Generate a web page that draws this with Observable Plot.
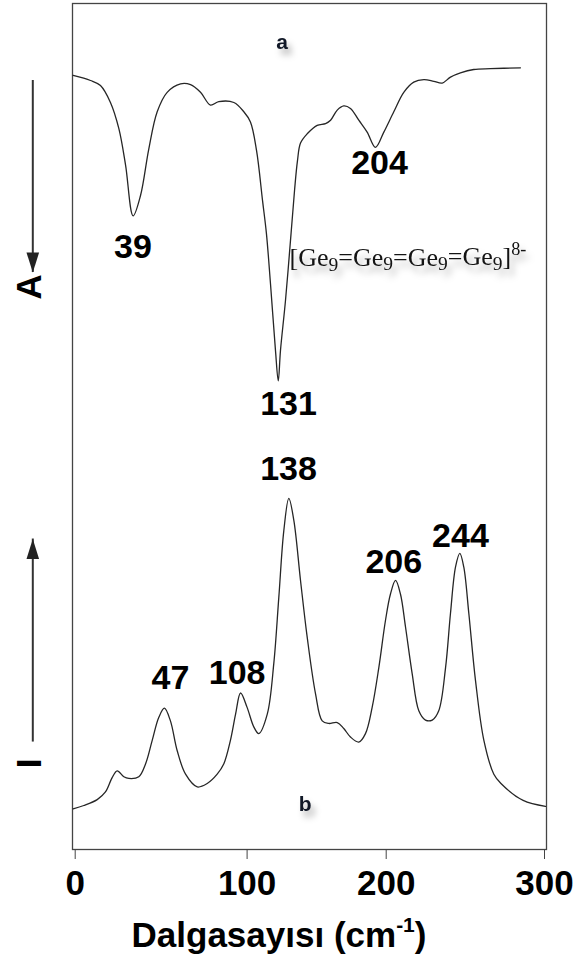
<!DOCTYPE html>
<html><head><meta charset="utf-8">
<script src="https://cdn.jsdelivr.net/npm/d3@7"></script>
<script src="https://cdn.jsdelivr.net/npm/@observablehq/plot@0.6"></script>
<style>
body{margin:0;background:#fff}
svg{display:block}
</style>
</head><body><div id="chart"></div>
<script>
// ---- data ----
const xTicks = [0, 100, 200, 300];
// spectrum a (absorbance plotted downward), wavenumber / arbitrary units
const irX = [-1.2, 8.9, 14.7, 20.5, 25.4, 29.3, 33.7, 38.0, 42.8, 47.7, 53.5, 61.3, 67.1, 72.9, 78.7, 83.5, 92.3, 98.1, 102.4, 106.8, 111.1, 113.9, 116.8, 120.4, 122.4, 124.0, 127.6, 131.2, 134.1, 136.2, 138.4, 143.2, 150.4, 156.4, 160.0, 164.8, 169.5, 174.3, 180.3, 186.3, 192.3, 198.3, 204.8, 211.1, 217.4, 223.8, 230.1, 235.4, 240.6, 246.9, 255.3, 265.9, 284.8];
const irY = [91.5, 90.9, 90.3, 88.3, 85.2, 80.9, 74.9, 77.3, 82.8, 87.2, 89.5, 90.5, 90.4, 89.5, 88.0, 88.4, 88.3, 87.2, 86.0, 82.6, 76.7, 72.8, 66.9, 59.0, 55.4, 59.0, 64.9, 72.0, 77.9, 81.4, 83.5, 84.6, 85.6, 85.8, 86.2, 87.4, 87.9, 87.6, 86.2, 84.8, 83.0, 84.8, 87.2, 89.5, 90.7, 91.0, 90.8, 90.6, 91.3, 91.8, 92.2, 92.3, 92.4];
// spectrum b (Raman intensity)
const ramanX = [-1.2, 5.0, 12.8, 17.6, 21.5, 24.4, 28.3, 31.2, 37.0, 40.9, 44.8, 48.6, 51.9, 55.4, 59.3, 64.2, 71.0, 76.8, 82.6, 86.4, 90.3, 93.3, 96.2, 100.0, 104.8, 108.4, 114.5, 119.2, 122.8, 126.4, 130.0, 133.6, 138.4, 143.2, 149.2, 154.0, 158.7, 164.8, 169.5, 174.3, 180.3, 185.1, 189.9, 194.7, 199.5, 202.7, 205.9, 209.0, 212.2, 216.4, 220.6, 224.8, 229.1, 233.2, 237.5, 240.6, 243.8, 246.5, 249.0, 252.2, 256.4, 261.7, 268.0, 272.5, 286.5, 300.6];
const ramanY = [4.8, 5.2, 5.9, 6.8, 8.5, 9.3, 8.6, 8.4, 8.6, 10.1, 12.9, 15.6, 16.7, 15.2, 11.7, 8.9, 7.4, 7.8, 8.9, 10.1, 12.9, 16.0, 18.5, 16.8, 14.5, 13.7, 16.0, 22.0, 29.8, 37.7, 41.5, 38.9, 31.8, 25.1, 18.4, 15.2, 14.9, 15.0, 14.3, 13.3, 12.7, 13.7, 16.8, 21.5, 27.1, 30.2, 31.8, 30.2, 26.3, 20.8, 16.4, 15.3, 15.3, 16.4, 21.5, 27.9, 33.4, 35.0, 33.4, 27.9, 20.0, 12.9, 8.9, 7.8, 5.8, 5.1];
// peak labels
const peakText = ["39", "131", "204", "47", "108", "138", "206", "244"];
const peakX = [33.6, 129.8, 195.2, 55.4, 94.2, 129.8, 204.8, 246.9];
const peakY = [71.2, 52.7, 81.1, 20.2, 20.8, 45.0, 34.0, 37.1];
// panel labels
const panelText = ["a", "b"];
const panelX = [125.1, 141.8];
const panelY = [95.4, 5.4];
// formula
const formulaText = ["[Ge9=Ge9=Ge9=Ge9]8-"];
const formulaX = [130.5];
const formulaY = [70.0];
// side arrows (A downward, I upward)
const sideText = ["A", "I"];
const sideY = [65.0, 9.6];
const arrowFrom = [90.9, 12.7];
const arrowTip = [68.2, 36.7];
const xLabel = "Dalgasayısı (cm-1)";

// ---- tables ----
const ir = irX.map((x, i) => ({x, y: irY[i]}));
const raman = ramanX.map((x, i) => ({x, y: ramanY[i]}));
const peaks = peakText.map((t, i) => ({t, x: peakX[i], y: peakY[i]}));
const panels = panelText.map((t, i) => ({t, x: panelX[i], y: panelY[i]}));
const formula = formulaText.map((t, i) => ({t, x: formulaX[i], y: formulaY[i]}));
const sides = sideText.map((t, i) => ({t, y: sideY[i]}));
const arrows = arrowFrom.map((y1, i) => ({x: 0, y1, y2: arrowTip[i], rot: y1 > arrowTip[i] ? 180 : 0}));

const head = {draw(ctx) { ctx.moveTo(0, 0); ctx.lineTo(6.3, 20); ctx.lineTo(-6.3, 20); ctx.closePath(); }};
const sans = "'Liberation Sans', Arial, sans-serif";

const chart = Plot.plot({
  width: 577,
  height: 969,
  marginLeft: 72,
  marginRight: 31,
  marginTop: 3,
  marginBottom: 120,
  style: {fontFamily: sans, fontSize: "35px", fontWeight: "bold", color: "#000", background: "#fff"},
  x: {type: "linear", domain: xTicks, range: [74.7, 246.6, 385.7, 544], axis: null, label: null},
  y: {domain: [0, 100], axis: null},
  marks: [
    Plot.frame({stroke: "#444", strokeWidth: 1.3}),
    Plot.axisX({ticks: xTicks, tickSize: 10, tickPadding: 11, stroke: "#444", label: null, tickFormat: d3.format("d")}),
    Plot.line(ir, {x: "x", y: "y", stroke: "#262626", strokeWidth: 1.3, curve: "catmull-rom"}),
    Plot.line(raman, {x: "x", y: "y", stroke: "#262626", strokeWidth: 1.3, curve: "catmull-rom"}),
    Plot.text(peaks, {x: "x", y: "y", text: "t", fontSize: 34, fontWeight: "bold", fontFamily: sans, fill: "#000"}),
    Plot.text(panels, {x: "x", y: "y", text: "t", fontSize: 21, fontWeight: "bold", fontFamily: sans, fill: "#111827"}),
    Plot.text(formula, {x: "x", y: "y", text: "t", textAnchor: "start", fontSize: 26, fontWeight: "normal", fontFamily: "'Liberation Serif', 'Times New Roman', serif", fill: "#141414"}),
    Plot.ruleX(arrows, {x: "x", y1: "y1", y2: "y2", dx: -42.4, stroke: "#333", strokeWidth: 2}),
    Plot.dot(arrows, {x: "x", y: "y2", dx: -42.4, symbol: head, rotate: "rot", fill: "#222", stroke: "none", r: 5}),
    Plot.text(sides, {frameAnchor: "left", y: "y", text: "t", dx: -43, rotate: -90, fontSize: 35, fontWeight: "bold", fontFamily: sans, fill: "#000"}),
    Plot.text([xLabel], {frameAnchor: "bottom", dx: -30.5, dy: 86, lineAnchor: "middle", fontSize: 35, fontWeight: "bold", fontFamily: sans, fill: "#000"})
  ]
});
document.getElementById("chart").append(chart);

const svg = d3.select(chart);
function textsOf(strings) {
  return svg.selectAll("text").filter(function() { return strings.includes(this.textContent); });
}
// shadows on panel labels and formula
textsOf(panelText).style("filter", "drop-shadow(4px 6px 3px rgba(0,0,0,0.3))");
textsOf(formulaText).style("filter", "drop-shadow(4px 7px 3px rgba(0,0,0,0.28))");
// formula with subscripts / superscript
textsOf(formulaText).each(function() {
  const t = d3.select(this);
  const s = this.textContent;
  t.text(null);
  const m = s.match(/^(.*\])(.*)$/);
  const body = m[1], sup = m[2];
  let lastSub = false;
  body.split(/(9)/).forEach(part => {
    if (!part) return;
    if (part === "9") {
      t.append("tspan").attr("font-size", "0.75em").attr("dy", "0.25em").text("9");
      lastSub = true;
    } else {
      t.append("tspan").attr("dy", lastSub ? "-0.19em" : null).text(part);
      lastSub = false;
    }
  });
  t.append("tspan").attr("font-size", "0.7em").attr("dy", "-0.55em").text(sup);
});
// x label with superscript
textsOf([xLabel]).each(function() {
  const t = d3.select(this);
  const s = this.textContent;
  t.text(null);
  const m = s.match(/^(.*cm)(-1)(\))$/);
  t.append("tspan").text(m[1]);
  t.append("tspan").attr("font-size", "0.6em").attr("dy", "-0.7em").text(m[2]);
  t.append("tspan").attr("dy", "0.42em").text(m[3]);
});
</script>
</body></html>
